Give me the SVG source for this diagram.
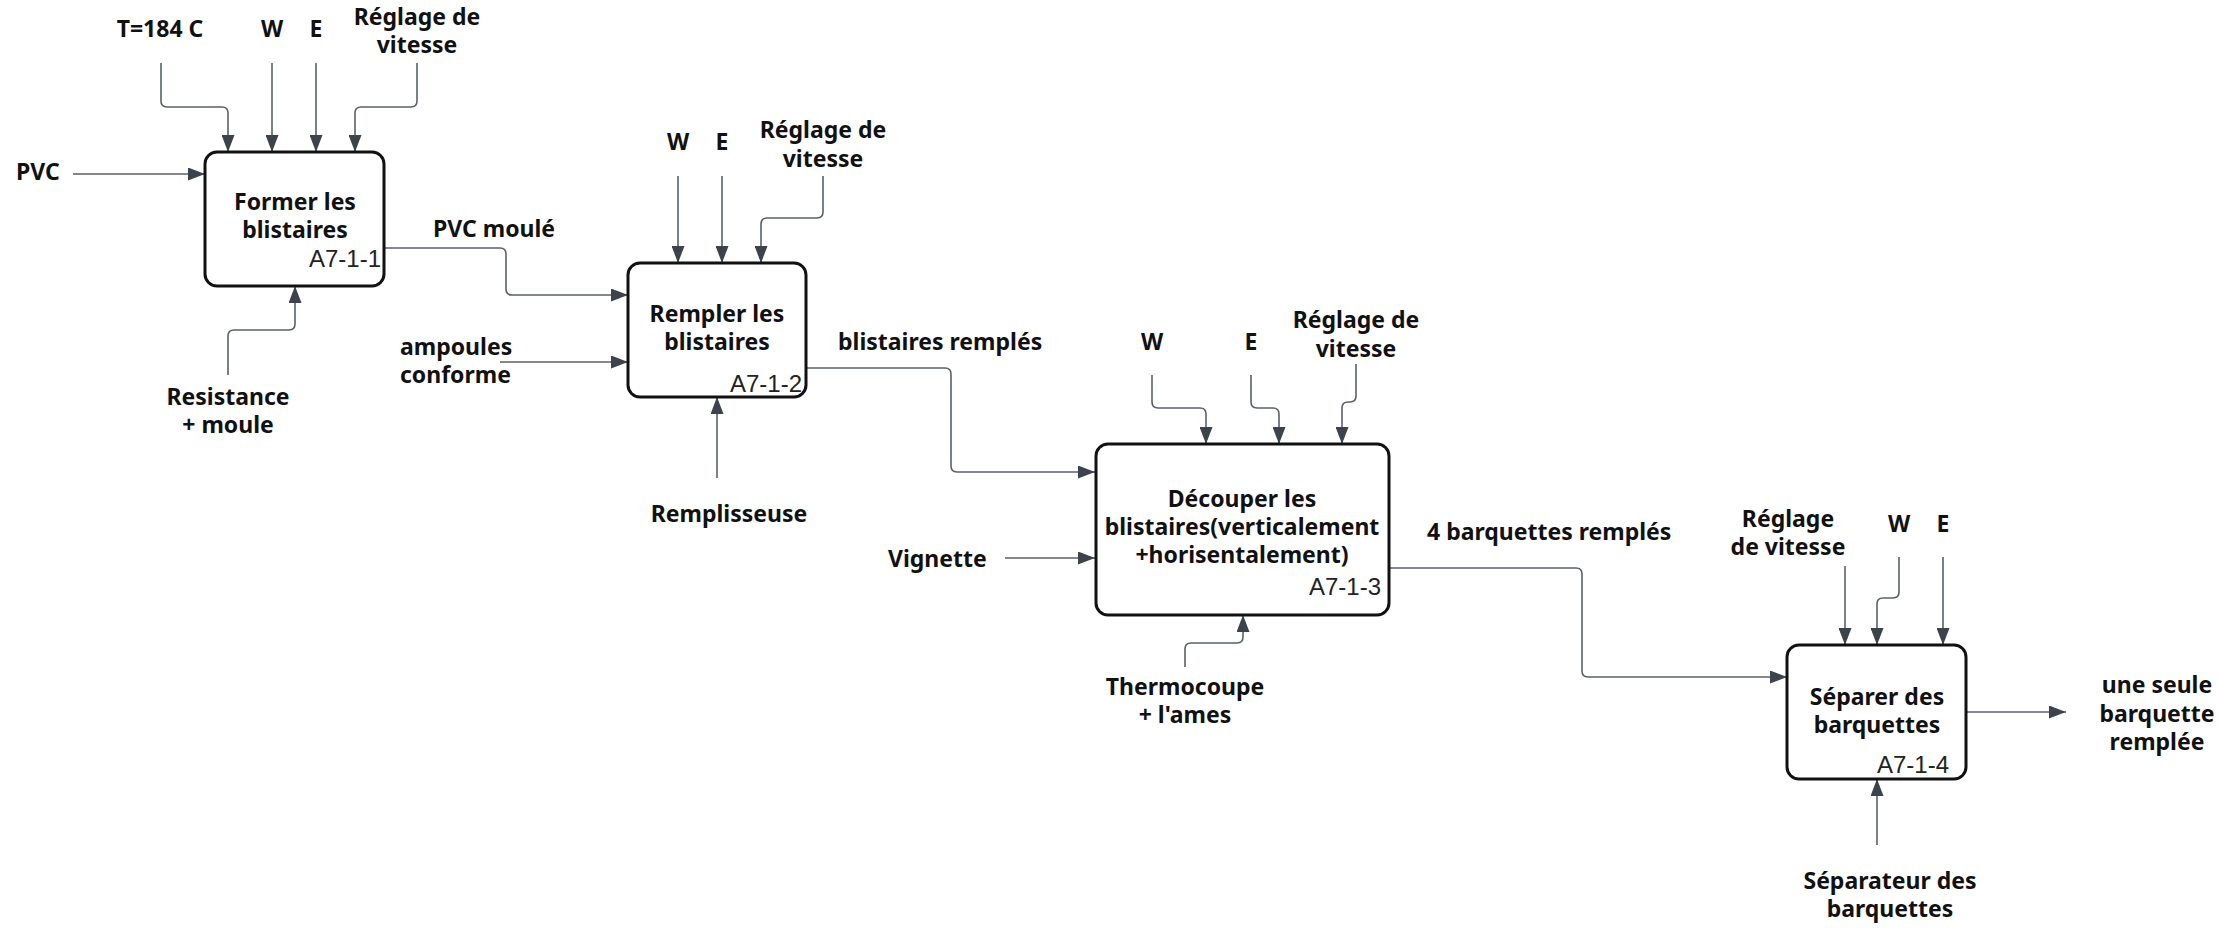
<svg xmlns="http://www.w3.org/2000/svg" width="2219" height="928" viewBox="0 0 2219 928">
  <style>
    .lbl { font-family: "Noto Sans", "Open Sans", "DejaVu Sans", sans-serif; font-weight: 700; font-size: 23px; fill: #111; }
    .mid { text-anchor: middle; }
    .code { font-family: "Liberation Sans", Arial, sans-serif; font-size: 24px; fill: #222; text-anchor: end; }
    .box { fill: #fff; stroke: #111; stroke-width: 3; }
    .wire { fill: none; stroke: #5b6169; stroke-width: 1.6; marker-end: url(#arrow); }
  </style>
  <defs>
    <marker id="arrow" viewBox="0 0 17 13" markerUnits="userSpaceOnUse" markerWidth="17" markerHeight="13" refX="17" refY="6.5" orient="auto">
      <path d="M0,0 L17,6.5 L0,13 z" fill="#3c434c"/>
    </marker>
  </defs>
  <rect width="2219" height="928" fill="#fff"/>

  <!-- connectors -->
  <g id="connectors">
    <!-- A7-1-1 -->
    <path class="wire" d="M161 63 V101 Q161 107 167 107 H222 Q228 107 228 113 V152"/>
    <path class="wire" d="M272 63 V152"/>
    <path class="wire" d="M316 63 V152"/>
    <path class="wire" d="M417 63 V101 Q417 107 411 107 H361 Q355 107 355 113 V152"/>
    <path class="wire" d="M73 174 H205"/>
    <path class="wire" d="M228 375 V336 Q228 330 234 330 H289 Q295 330 295 324 V286"/>
    <path class="wire" d="M384 248 H500 Q506 248 506 254 V289 Q506 295 512 295 H628"/>
    <!-- A7-1-2 -->
    <path class="wire" d="M678 176 V263"/>
    <path class="wire" d="M722 176 V263"/>
    <path class="wire" d="M823 176 V212 Q823 218 817 218 H767 Q761 218 761 224 V263"/>
    <path class="wire" d="M500 362 H628"/>
    <path class="wire" d="M717 478 V397"/>
    <path class="wire" d="M807 368 H945 Q951 368 951 374 V466 Q951 472 957 472 H1095"/>
    <!-- A7-1-3 -->
    <path class="wire" d="M1152 375 V402 Q1152 408 1158 408 H1200 Q1206 408 1206 414 V444"/>
    <path class="wire" d="M1251 375 V402 Q1251 408 1257 408 H1273 Q1279 408 1279 414 V444"/>
    <path class="wire" d="M1356 364 V396 Q1356 402 1350 402 H1348 Q1342 402 1342 408 V444"/>
    <path class="wire" d="M1005 558 H1095"/>
    <path class="wire" d="M1185 667 V649 Q1185 643 1191 643 H1237 Q1243 643 1243 637 V615"/>
    <path class="wire" d="M1389 568 H1576 Q1582 568 1582 574 V671 Q1582 677 1588 677 H1787"/>
    <!-- A7-1-4 -->
    <path class="wire" d="M1845 566 V645"/>
    <path class="wire" d="M1899 557 V592 Q1899 598 1893 598 H1883 Q1877 598 1877 604 V645"/>
    <path class="wire" d="M1943 557 V645"/>
    <path class="wire" d="M1877 845 V779"/>
    <path class="wire" d="M1966 712 H2066"/>
  </g>

  <!-- activity boxes -->
  <g id="a7-1-1">
    <rect class="box" x="205" y="152" width="179" height="134" rx="12"/>
    <text class="lbl mid" x="295" y="210">Former les</text>
    <text class="lbl mid" x="295" y="238">blistaires</text>
    <text class="code" x="381" y="267">A7-1-1</text>
  </g>
  <g id="a7-1-2">
    <rect class="box" x="628" y="263" width="178" height="134" rx="12"/>
    <text class="lbl mid" x="717" y="322">Rempler les</text>
    <text class="lbl mid" x="717" y="350">blistaires</text>
    <text class="code" x="802" y="392">A7-1-2</text>
  </g>
  <g id="a7-1-3">
    <rect class="box" x="1096" y="444" width="293" height="171" rx="12"/>
    <text class="lbl mid" x="1242" y="507">Découper les</text>
    <text class="lbl mid" x="1242" y="535">blistaires(verticalement</text>
    <text class="lbl mid" x="1242" y="563">+horisentalement)</text>
    <text class="code" x="1381" y="595">A7-1-3</text>
  </g>
  <g id="a7-1-4">
    <rect class="box" x="1787" y="645" width="179" height="134" rx="12"/>
    <text class="lbl mid" x="1877" y="705">Séparer des</text>
    <text class="lbl mid" x="1877" y="733">barquettes</text>
    <text class="code" x="1949" y="773">A7-1-4</text>
  </g>

  <!-- flow labels -->
  <g id="labels">
    <text class="lbl mid" x="160" y="37">T=184 C</text>
    <text class="lbl mid" x="272" y="37">W</text>
    <text class="lbl mid" x="316" y="37">E</text>
    <text class="lbl mid" x="417" y="25">Réglage de</text>
    <text class="lbl mid" x="417" y="53">vitesse</text>
    <text class="lbl" x="16" y="180">PVC</text>
    <text class="lbl" x="433" y="237">PVC moulé</text>
    <text class="lbl mid" x="228" y="405">Resistance</text>
    <text class="lbl mid" x="228" y="433">+ moule</text>
    <text class="lbl" x="400" y="355">ampoules</text>
    <text class="lbl" x="400" y="383">conforme</text>

    <text class="lbl mid" x="678" y="150">W</text>
    <text class="lbl mid" x="722" y="150">E</text>
    <text class="lbl mid" x="823" y="138">Réglage de</text>
    <text class="lbl mid" x="823" y="167">vitesse</text>
    <text class="lbl mid" x="729" y="522">Remplisseuse</text>
    <text class="lbl" x="838" y="350">blistaires remplés</text>
    <text class="lbl" x="888" y="567">Vignette</text>

    <text class="lbl mid" x="1152" y="350">W</text>
    <text class="lbl mid" x="1251" y="350">E</text>
    <text class="lbl mid" x="1356" y="328">Réglage de</text>
    <text class="lbl mid" x="1356" y="357">vitesse</text>
    <text class="lbl mid" x="1185" y="695">Thermocoupe</text>
    <text class="lbl mid" x="1185" y="723">+ l'ames</text>
    <text class="lbl" x="1427" y="540">4 barquettes remplés</text>

    <text class="lbl mid" x="1788" y="527">Réglage</text>
    <text class="lbl mid" x="1788" y="555">de vitesse</text>
    <text class="lbl mid" x="1899" y="532">W</text>
    <text class="lbl mid" x="1943" y="532">E</text>
    <text class="lbl mid" x="2157" y="693">une seule</text>
    <text class="lbl mid" x="2157" y="722">barquette</text>
    <text class="lbl mid" x="2157" y="750">remplée</text>
    <text class="lbl mid" x="1890" y="889">Séparateur des</text>
    <text class="lbl mid" x="1890" y="917">barquettes</text>
  </g>
</svg>
